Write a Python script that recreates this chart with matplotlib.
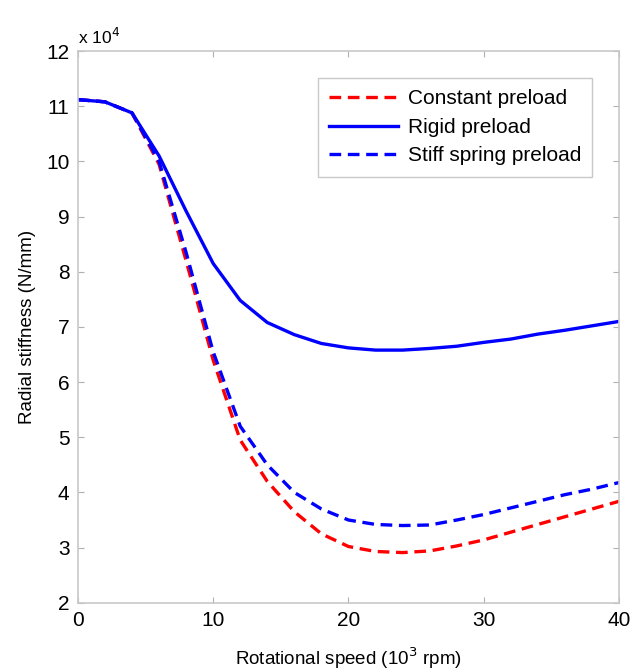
import numpy as np
import matplotlib.pyplot as plt

plt.rcParams['font.family'] = ['Liberation Sans', 'DejaVu Sans']

# velocidad de giro (10^3 rpm)
speed = [0, 2, 4, 6, 8, 10, 12, 14, 16, 18, 20, 22, 24, 26, 28, 30, 32, 34, 36, 38, 40]

# rigidez radial (x 10^4 N/mm)
constant = [11.12, 11.08, 10.88, 9.95, 8.2, 6.4, 4.95, 4.2, 3.65, 3.25, 3.02,
            2.93, 2.91, 2.94, 3.03, 3.14, 3.28, 3.42, 3.56, 3.7, 3.84]
rigid = [11.12, 11.08, 10.88, 10.1, 9.1, 8.15, 7.48, 7.08, 6.86, 6.7, 6.62,
         6.58, 6.58, 6.61, 6.65, 6.72, 6.78, 6.87, 6.94, 7.02, 7.1]
stiff = [11.12, 11.08, 10.88, 10.0, 8.35, 6.55, 5.2, 4.5, 4.0, 3.7, 3.5,
         3.42, 3.4, 3.41, 3.5, 3.6, 3.72, 3.84, 3.96, 4.06, 4.18]

fig = plt.figure(figsize=(6.33, 6.72), dpi=100)
ax = fig.add_axes([0.123, 0.103, 0.855, 0.821])

dash = (3.5, 2)
ax.plot(speed, constant, color='#ff0000', lw=2.4, dashes=dash, label='Constant preload')
ax.plot(speed, rigid, color='#0000ff', lw=2.4, label='Rigid preload')
ax.plot(speed, stiff, color='#0000ff', lw=2.4, dashes=dash, label='Stiff spring preload')

ax.set_xlim(0, 40)
ax.set_ylim(2, 12)
ax.set_xticks([0, 10, 20, 30, 40])
ax.set_yticks(range(2, 13))

for s in ax.spines.values():
    s.set_color('#c8c8c8')
    s.set_linewidth(1.2)
ax.tick_params(direction='in', length=4, color='#b0b0b0', labelsize=15, pad=6,
               top=True, right=True)

ax.set_xlabel('Rotational speed (10$^3$ rpm)', fontsize=13.5, labelpad=11)
ax.set_ylabel('Radial stiffness (N/mm)', fontsize=13.5, labelpad=7)
ax.text(0.0, 1.008, 'x 10$^4$', transform=ax.transAxes, fontsize=12.5, ha='left', va='bottom')

leg = ax.legend(loc='upper right', fontsize=15, fancybox=False, framealpha=1,
                borderpad=0.55, handlelength=3.3, labelspacing=0.45, handletextpad=0.45,
                bbox_to_anchor=(0.97, 0.97))
leg.get_frame().set_edgecolor('#c8c8c8')
leg.get_frame().set_linewidth(1.0)

plt.savefig('out.png', dpi=100)
